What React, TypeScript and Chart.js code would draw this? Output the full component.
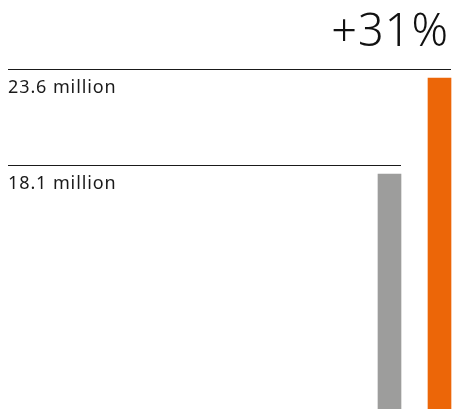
import React, { useEffect, useRef } from "react";
import { Chart, registerables } from "chart.js";

Chart.register(...registerables);

const categories = ["Previous", "Current"];
const values = [18.1, 23.6];
const valueLabels = ["18.1 million", "23.6 million"];
const barColors = ["#9d9d9c", "#ec6608"];
const changeLabel = "+31%";

const FONT = "'Noto Sans', 'Open Sans', sans-serif";

const annotatePlugin = {
  id: "annotate",
  afterDatasetsDraw(chart: any) {
    const { ctx } = chart;
    const meta = chart.getDatasetMeta(0);
    ctx.save();
    meta.data.forEach((bar: any, i: number) => {
      const right = bar.x + bar.width / 2;
      const lineY = Math.round(bar.y - 9) + 0.5;
      ctx.strokeStyle = "#1a1a1a";
      ctx.lineWidth = 1;
      ctx.beginPath();
      ctx.moveTo(8, lineY);
      ctx.lineTo(right, lineY);
      ctx.stroke();
      ctx.fillStyle = "#1a1a1a";
      ctx.font = `18px ${FONT}`;
      (ctx as any).letterSpacing = "0.9px";
      ctx.textAlign = "left";
      ctx.textBaseline = "alphabetic";
      ctx.fillText(valueLabels[i], 8, lineY + 23);
    });
    ctx.font = `300 45px ${FONT}`;
    (ctx as any).letterSpacing = "1px";
    ctx.textAlign = "right";
    ctx.textBaseline = "alphabetic";
    ctx.fillStyle = "#111";
    ctx.fillText(changeLabel, 449, 46);
    ctx.restore();
  },
};

export default function App() {
  const ref = useRef<HTMLCanvasElement>(null);
  useEffect(() => {
    document.body.style.margin = "0";
    const chart = new Chart(ref.current!, {
      type: "bar",
      data: {
        labels: categories,
        datasets: [
          {
            data: values,
            backgroundColor: barColors,
            barThickness: 23,
            borderWidth: 0,
            clip: false as any,
          },
        ],
      },
      options: {
        responsive: false,
        animation: false,
        layout: { padding: { left: 389.5, right: 14.5, top: 78, bottom: 0 } },
        plugins: { legend: { display: false }, tooltip: { enabled: false }, title: { display: false } },
        scales: {
          x: { display: false, offset: false, grid: { display: false } },
          y: { display: false, min: 0, max: 23.6, grid: { display: false } },
        },
      },
      plugins: [annotatePlugin],
    });
    return () => chart.destroy();
  }, []);
  return (
    <div style={{ width: 454, height: 490 }}>
      <canvas ref={ref} width={454} height={490} style={{ display: "block" }} />
    </div>
  );
}
